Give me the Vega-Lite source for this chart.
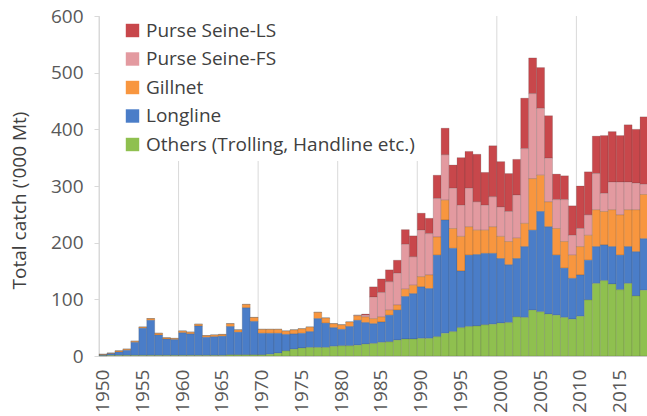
{
  "$schema": "https://vega.github.io/schema/vega-lite/v6.json",
  "width": 549,
  "height": 340,
  "autosize": {"type": "none"},
  "padding": {"left": 99, "top": 16, "right": 0, "bottom": 60},
  "config": {
    "view": {"stroke": null},
    "font": "Open Sans"
  },
  "layer": [
    {
      "data": {"values": [
        {"year": 1950}, {"year": 1960}, {"year": 1970}, {"year": 1980},
        {"year": 1990}, {"year": 2000}, {"year": 2010}
      ]},
      "mark": {"type": "rule", "color": "#d9d9d9", "strokeWidth": 1},
      "encoding": {
        "x": {"field": "year", "type": "ordinal", "bandPosition": 0}
      }
    },
    {
      "data": {"values": [
        {"year": 1950, "a_LS": 0, "b_FS": 0, "c_Gillnet": 1, "d_Longline": 1.5, "e_Others": 0.5},
        {"year": 1951, "a_LS": 0, "b_FS": 0, "c_Gillnet": 1, "d_Longline": 3, "e_Others": 1},
        {"year": 1952, "a_LS": 0, "b_FS": 0, "c_Gillnet": 2, "d_Longline": 6, "e_Others": 1},
        {"year": 1953, "a_LS": 0, "b_FS": 0, "c_Gillnet": 2, "d_Longline": 9, "e_Others": 1},
        {"year": 1954, "a_LS": 0, "b_FS": 0, "c_Gillnet": 2, "d_Longline": 23, "e_Others": 1},
        {"year": 1955, "a_LS": 0, "b_FS": 0, "c_Gillnet": 2, "d_Longline": 48, "e_Others": 1},
        {"year": 1956, "a_LS": 0, "b_FS": 0, "c_Gillnet": 3, "d_Longline": 62, "e_Others": 1},
        {"year": 1957, "a_LS": 0, "b_FS": 0, "c_Gillnet": 3, "d_Longline": 36, "e_Others": 1},
        {"year": 1958, "a_LS": 0, "b_FS": 0, "c_Gillnet": 2, "d_Longline": 29, "e_Others": 1},
        {"year": 1959, "a_LS": 0, "b_FS": 0, "c_Gillnet": 2, "d_Longline": 28, "e_Others": 1},
        {"year": 1960, "a_LS": 0, "b_FS": 0, "c_Gillnet": 3, "d_Longline": 40, "e_Others": 1},
        {"year": 1961, "a_LS": 0, "b_FS": 0, "c_Gillnet": 3, "d_Longline": 38, "e_Others": 1},
        {"year": 1962, "a_LS": 0, "b_FS": 0, "c_Gillnet": 3, "d_Longline": 52, "e_Others": 1},
        {"year": 1963, "a_LS": 0, "b_FS": 0, "c_Gillnet": 3, "d_Longline": 32, "e_Others": 1},
        {"year": 1964, "a_LS": 0, "b_FS": 0, "c_Gillnet": 3, "d_Longline": 33, "e_Others": 1},
        {"year": 1965, "a_LS": 0, "b_FS": 0, "c_Gillnet": 3, "d_Longline": 34, "e_Others": 1},
        {"year": 1966, "a_LS": 0, "b_FS": 0, "c_Gillnet": 5, "d_Longline": 50, "e_Others": 2},
        {"year": 1967, "a_LS": 0, "b_FS": 0, "c_Gillnet": 4, "d_Longline": 40, "e_Others": 2},
        {"year": 1968, "a_LS": 0, "b_FS": 0, "c_Gillnet": 6, "d_Longline": 83, "e_Others": 2},
        {"year": 1969, "a_LS": 0, "b_FS": 0, "c_Gillnet": 7, "d_Longline": 59, "e_Others": 2},
        {"year": 1970, "a_LS": 0, "b_FS": 0, "c_Gillnet": 7, "d_Longline": 38, "e_Others": 2},
        {"year": 1971, "a_LS": 0, "b_FS": 0, "c_Gillnet": 7, "d_Longline": 37, "e_Others": 3},
        {"year": 1972, "a_LS": 0, "b_FS": 0, "c_Gillnet": 7, "d_Longline": 35, "e_Others": 5},
        {"year": 1973, "a_LS": 0, "b_FS": 0, "c_Gillnet": 6, "d_Longline": 29, "e_Others": 9},
        {"year": 1974, "a_LS": 0, "b_FS": 0, "c_Gillnet": 7, "d_Longline": 27, "e_Others": 12},
        {"year": 1975, "a_LS": 0, "b_FS": 0, "c_Gillnet": 8, "d_Longline": 26, "e_Others": 14},
        {"year": 1976, "a_LS": 0, "b_FS": 0, "c_Gillnet": 8, "d_Longline": 28, "e_Others": 15},
        {"year": 1977, "a_LS": 0, "b_FS": 0, "c_Gillnet": 11, "d_Longline": 51, "e_Others": 15},
        {"year": 1978, "a_LS": 0, "b_FS": 0, "c_Gillnet": 9, "d_Longline": 43, "e_Others": 15},
        {"year": 1979, "a_LS": 0, "b_FS": 0, "c_Gillnet": 7, "d_Longline": 33, "e_Others": 17},
        {"year": 1980, "a_LS": 0, "b_FS": 0, "c_Gillnet": 8, "d_Longline": 29, "e_Others": 18},
        {"year": 1981, "a_LS": 0, "b_FS": 0, "c_Gillnet": 8, "d_Longline": 34, "e_Others": 18},
        {"year": 1982, "a_LS": 0, "b_FS": 1, "c_Gillnet": 8, "d_Longline": 44, "e_Others": 19},
        {"year": 1983, "a_LS": 2, "b_FS": 3, "c_Gillnet": 10, "d_Longline": 38, "e_Others": 21},
        {"year": 1984, "a_LS": 18, "b_FS": 38, "c_Gillnet": 9, "d_Longline": 35, "e_Others": 22},
        {"year": 1985, "a_LS": 24, "b_FS": 43, "c_Gillnet": 9, "d_Longline": 36, "e_Others": 24},
        {"year": 1986, "a_LS": 21, "b_FS": 50, "c_Gillnet": 9, "d_Longline": 47, "e_Others": 25},
        {"year": 1987, "a_LS": 23, "b_FS": 56, "c_Gillnet": 9, "d_Longline": 53, "e_Others": 28},
        {"year": 1988, "a_LS": 26, "b_FS": 79, "c_Gillnet": 13, "d_Longline": 75, "e_Others": 30},
        {"year": 1989, "a_LS": 37, "b_FS": 50, "c_Gillnet": 15, "d_Longline": 80, "e_Others": 30},
        {"year": 1990, "a_LS": 30, "b_FS": 82, "c_Gillnet": 18, "d_Longline": 91, "e_Others": 31},
        {"year": 1991, "a_LS": 27, "b_FS": 73, "c_Gillnet": 24, "d_Longline": 88, "e_Others": 31},
        {"year": 1992, "a_LS": 41, "b_FS": 68, "c_Gillnet": 32, "d_Longline": 144, "e_Others": 34},
        {"year": 1993, "a_LS": 47, "b_FS": 80, "c_Gillnet": 35, "d_Longline": 200, "e_Others": 40},
        {"year": 1994, "a_LS": 41, "b_FS": 71, "c_Gillnet": 35, "d_Longline": 147, "e_Others": 43},
        {"year": 1995, "a_LS": 84, "b_FS": 55, "c_Gillnet": 61, "d_Longline": 100, "e_Others": 50},
        {"year": 1996, "a_LS": 65, "b_FS": 68, "c_Gillnet": 50, "d_Longline": 126, "e_Others": 52},
        {"year": 1997, "a_LS": 84, "b_FS": 50, "c_Gillnet": 43, "d_Longline": 126, "e_Others": 53},
        {"year": 1998, "a_LS": 58, "b_FS": 44, "c_Gillnet": 41, "d_Longline": 126, "e_Others": 55},
        {"year": 1999, "a_LS": 90, "b_FS": 53, "c_Gillnet": 47, "d_Longline": 125, "e_Others": 56},
        {"year": 2000, "a_LS": 80, "b_FS": 52, "c_Gillnet": 39, "d_Longline": 114, "e_Others": 58},
        {"year": 2001, "a_LS": 67, "b_FS": 53, "c_Gillnet": 41, "d_Longline": 102, "e_Others": 59},
        {"year": 2002, "a_LS": 63, "b_FS": 76, "c_Gillnet": 36, "d_Longline": 103, "e_Others": 69},
        {"year": 2003, "a_LS": 89, "b_FS": 132, "c_Gillnet": 41, "d_Longline": 125, "e_Others": 68},
        {"year": 2004, "a_LS": 63, "b_FS": 150, "c_Gillnet": 91, "d_Longline": 141, "e_Others": 81},
        {"year": 2005, "a_LS": 72, "b_FS": 118, "c_Gillnet": 64, "d_Longline": 177, "e_Others": 78},
        {"year": 2006, "a_LS": 75, "b_FS": 77, "c_Gillnet": 44, "d_Longline": 154, "e_Others": 74},
        {"year": 2007, "a_LS": 45, "b_FS": 51, "c_Gillnet": 47, "d_Longline": 106, "e_Others": 72},
        {"year": 2008, "a_LS": 42, "b_FS": 74, "c_Gillnet": 47, "d_Longline": 87, "e_Others": 68},
        {"year": 2009, "a_LS": 52, "b_FS": 35, "c_Gillnet": 41, "d_Longline": 72, "e_Others": 65},
        {"year": 2010, "a_LS": 75, "b_FS": 32, "c_Gillnet": 50, "d_Longline": 73, "e_Others": 70},
        {"year": 2011, "a_LS": 76, "b_FS": 36, "c_Gillnet": 44, "d_Longline": 70, "e_Others": 99},
        {"year": 2012, "a_LS": 66, "b_FS": 64, "c_Gillnet": 65, "d_Longline": 65, "e_Others": 128},
        {"year": 2013, "a_LS": 102, "b_FS": 32, "c_Gillnet": 59, "d_Longline": 63, "e_Others": 133},
        {"year": 2014, "a_LS": 89, "b_FS": 49, "c_Gillnet": 65, "d_Longline": 66, "e_Others": 127},
        {"year": 2015, "a_LS": 82, "b_FS": 58, "c_Gillnet": 71, "d_Longline": 61, "e_Others": 117},
        {"year": 2016, "a_LS": 101, "b_FS": 49, "c_Gillnet": 65, "d_Longline": 65, "e_Others": 128},
        {"year": 2017, "a_LS": 95, "b_FS": 47, "c_Gillnet": 74, "d_Longline": 78, "e_Others": 106},
        {"year": 2018, "a_LS": 119, "b_FS": 18, "c_Gillnet": 78, "d_Longline": 91, "e_Others": 116}
      ]},
      "transform": [
        {"fold": ["a_LS", "b_FS", "c_Gillnet", "d_Longline", "e_Others"], "as": ["gear", "catch"]}
      ],
      "mark": {
        "type": "bar",
        "stroke": "#3a3a3a",
        "strokeWidth": 0.5,
        "strokeOpacity": 0.35
      },
      "encoding": {
        "x": {
          "field": "year",
          "type": "ordinal",
          "scale": {"paddingInner": 0, "paddingOuter": 0},
          "axis": {
            "values": [1950, 1955, 1960, 1965, 1970, 1975, 1980, 1985, 1990, 1995, 2000, 2005, 2010, 2015],
            "labelAngle": -90,
            "labelFontSize": 19,
            "labelColor": "#595959",
            "labelPadding": 13,
            "ticks": false,
            "grid": false,
            "domainColor": "#d9d9d9",
            "title": null
          }
        },
        "y": {
          "field": "catch",
          "type": "quantitative",
          "stack": "zero",
          "scale": {"domain": [0, 600], "nice": false},
          "axis": {
            "values": [0, 100, 200, 300, 400, 500, 600],
            "title": "Total catch ('000 Mt)",
            "titleFontSize": 19,
            "titleFontWeight": "normal",
            "titleColor": "#404040",
            "titleX": -74,
            "titleY": 184,
            "titleBaseline": "alphabetic",
            "labelFontSize": 19,
            "labelColor": "#595959",
            "labelPadding": 11,
            "tickSize": 5,
            "tickColor": "#d9d9d9",
            "domainColor": "#d9d9d9",
            "grid": false
          }
        },
        "color": {
          "field": "gear",
          "type": "nominal",
          "scale": {
            "domain": ["a_LS", "b_FS", "c_Gillnet", "d_Longline", "e_Others"],
            "range": ["#c8474b", "#e39aa0", "#f8963f", "#4a7dc8", "#8fc04f"]
          },
          "legend": {
            "orient": "none",
            "legendX": 18,
            "legendY": -1,
            "title": null,
            "fillColor": "white",
            "padding": 6,
            "symbolType": "square",
            "symbolSize": 180,
            "symbolStrokeWidth": 0,
            "symbolOpacity": 1,
            "labelFontSize": 19,
            "labelColor": "#404040",
            "labelOffset": 4,
            "rowPadding": 8.5,
            "labelLimit": 400,
            "labelExpr": "{'a_LS': 'Purse Seine-LS', 'b_FS': 'Purse Seine-FS', 'c_Gillnet': 'Gillnet', 'd_Longline': 'Longline', 'e_Others': 'Others (Trolling, Handline etc.)'}[datum.label]"
          }
        }
      }
    }
  ]
}
